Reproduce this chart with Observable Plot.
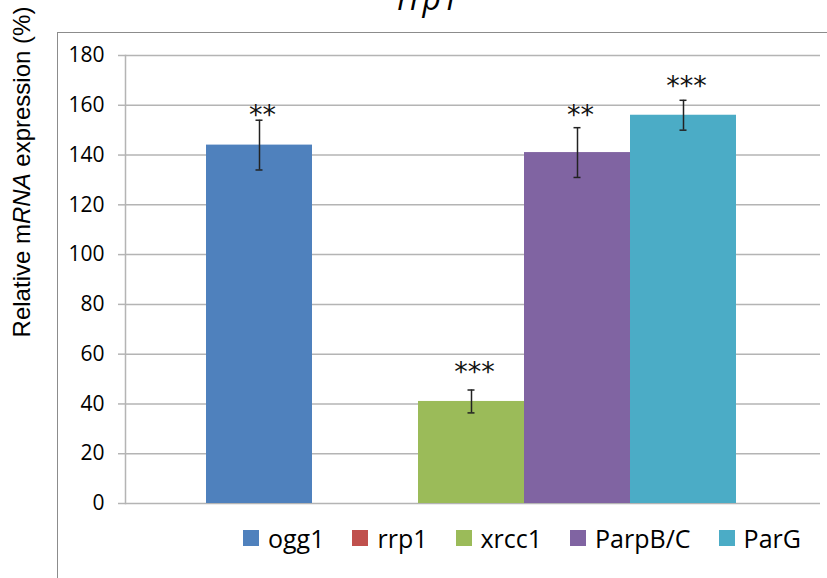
<!DOCTYPE html>
<html>
<head>
<meta charset="utf-8">
<script src="https://cdn.jsdelivr.net/npm/d3@7"></script>
<script src="https://cdn.jsdelivr.net/npm/@observablehq/plot@0.6"></script>
<style>
  html, body { margin: 0; padding: 0; background: #fff; }
  #wrap { position: relative; width: 827px; height: 578px; overflow: hidden; background: #fff; }
  #frame { position: absolute; left: 57px; top: 32px; width: 900px; height: 700px;
           border-left: 1.5px solid #8c8c8c; border-top: 1.5px solid #8c8c8c; }
  #title { position: absolute; left: 0; width: 856px; text-align: center; top: -18px;
           font: italic 32px "Open Sans", sans-serif; line-height: 32px; color: #000; }
  #ylabel { position: absolute; left: 22px; top: 172px; transform: translate(-50%, -50%) rotate(-90deg);
            white-space: nowrap; font: 24px "Liberation Sans", Arial, sans-serif; color: #000; }
  #chart { position: absolute; left: 0; top: 0; }
  #legend { position: absolute; left: 243px; top: 521px; display: flex; align-items: center;
            font: 25px "Open Sans", sans-serif; color: #000; }
  .item { display: flex; align-items: center; margin-right: 28px; }
  .sw { width: 16px; height: 16px; margin-right: 9px; }
</style>
</head>
<body>
<div id="wrap">
  <div id="frame"></div>
  <div id="title"></div>
  <div id="ylabel">Relative m<i>RNA</i> expression (%)</div>
  <div id="chart"></div>
  <div id="legend"></div>
</div>
<script>
const categories = ["ogg1", "rrp1", "xrcc1", "ParpB/C", "ParG"];
const values = [144, 0, 41, 141, 156];
const errors = [10, 0, 4.6, 10, 6];
const stars = ["**", "", "***", "**", "***"];
const starLevels = [157, null, 54, 157, 169];
const colors = ["#4F81BD", "#C0504D", "#9BBB59", "#8064A2", "#4BACC6"];
const yTicks = [0, 20, 40, 60, 80, 100, 120, 140, 160, 180];
const titleText = "rrp1";

const data = categories.map((c, i) => ({cat: c, v: values[i], err: errors[i], star: stars[i], sy: starLevels[i]}));

document.getElementById("title").textContent = titleText;

const grid = "#b4b4b4";
const plot = Plot.plot({
  width: 827,
  height: 515,
  marginTop: 55,
  marginBottom: 12,
  marginLeft: 125,
  marginRight: 7,
  style: {background: "transparent", fontFamily: "'Open Sans', sans-serif", fontSize: "20px", color: "#000"},
  x: {domain: categories, paddingInner: 0, paddingOuter: 0.75, axis: null},
  y: {domain: [0, 180], ticks: yTicks, label: null},
  color: {domain: categories, range: colors},
  marks: [
    Plot.ruleY(yTicks, {stroke: grid, strokeWidth: 1.5}),
    Plot.axisY({ticks: yTicks, tickSize: 7, tickPadding: 14, stroke: grid, strokeWidth: 1.5, label: null, fontSize: 21, fill: "#000"}),
    Plot.frame({anchor: "left", stroke: grid, strokeWidth: 1.5}),
    Plot.barY(data.filter(d => d.v > 0), {x: "cat", y: "v", fill: "cat", inset: 0, dx: -2}),
    Plot.ruleX(data.filter(d => d.err > 0), {x: "cat", y1: d => d.v - d.err, y2: d => d.v + d.err, stroke: "#222", strokeWidth: 1.5, dx: -2}),
    Plot.tickY(data.filter(d => d.err > 0), {x: "cat", y: d => d.v + d.err, stroke: "#222", strokeWidth: 1.5, insetLeft: 49.5, insetRight: 49.5, dx: -2}),
    Plot.tickY(data.filter(d => d.err > 0), {x: "cat", y: d => d.v - d.err, stroke: "#222", strokeWidth: 1.5, insetLeft: 49.5, insetRight: 49.5, dx: -2}),
    Plot.text(data.filter(d => d.star), {x: "cat", y: "sy", text: "star", lineAnchor: "middle", dy: 3, dx: 1, fontSize: 27, fill: "#111", fontFamily: "'DejaVu Sans', sans-serif", style: "letter-spacing:5px"})
  ]
});
document.getElementById("chart").appendChild(plot);

const legend = document.getElementById("legend");
categories.forEach((c, i) => {
  const it = document.createElement("div");
  it.className = "item";
  const sw = document.createElement("div");
  sw.className = "sw";
  sw.style.background = colors[i];
  const t = document.createElement("span");
  t.textContent = c;
  it.appendChild(sw);
  it.appendChild(t);
  legend.appendChild(it);
});
</script>
</body>
</html>
